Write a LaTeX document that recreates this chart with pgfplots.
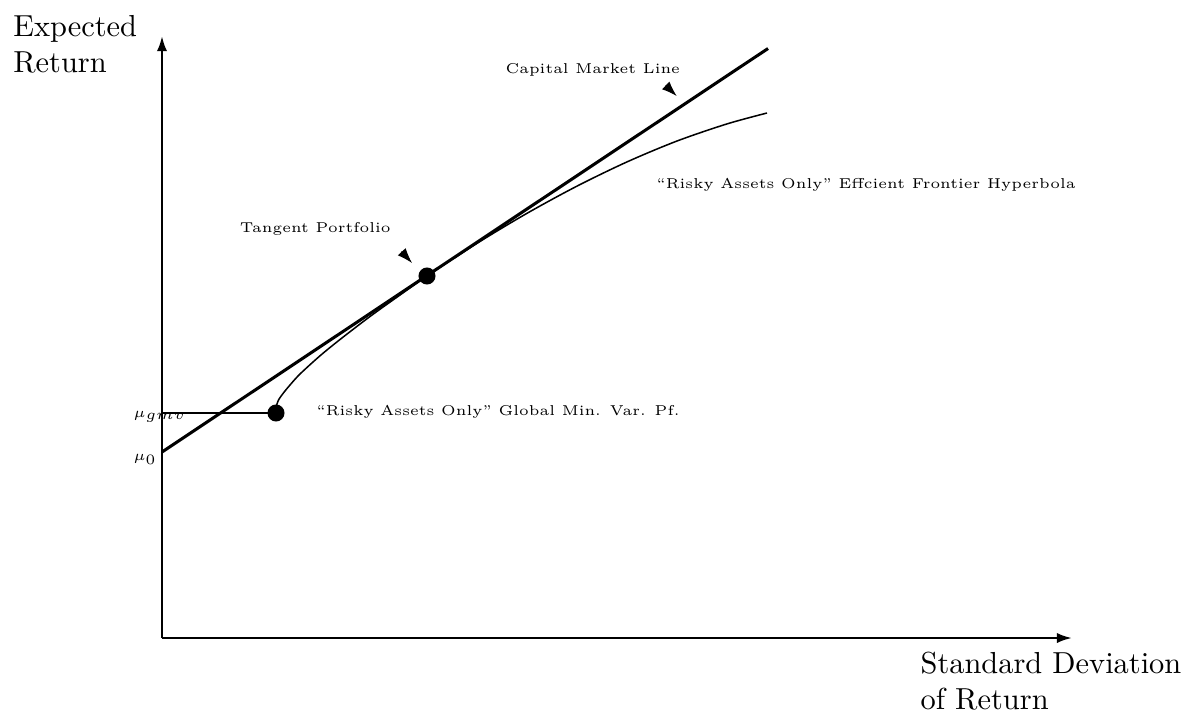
\documentclass[border=0pt]{standalone}
\usepackage{graphicx}
\usepackage{pgfplots}
\pgfplotsset{compat=1.18}
\usetikzlibrary{arrows.meta}
\newcommand{\lab}[1]{\scalebox{0.94}{\tiny #1}}
\begin{document}
\begin{tikzpicture}
\begin{axis}[
  anchor=origin, at={(0,0)},
  x=32.895pt, y=32.895pt,
  xmin=0, xmax=9.1, ymin=0, ymax=6.02,
  enlargelimits=false,
  axis lines=left,
  axis line style={line width=0.8pt, -{Latex[length=5pt,width=3.4pt]}},
  xtick=\empty, ytick=\empty,
  clip=false,
]
% Capital market line
\addplot[black, line width=1pt] coordinates {(0,1.86) (6.06,5.895)};
% Efficient frontier hyperbola
\addplot[black, line width=0.5pt, smooth, tension=0.5] coordinates {
(1.14,2.25) (1.145,2.32) (1.165,2.38) (1.21,2.445) (1.28,2.53) (1.38,2.64)
(1.58,2.822) (1.78,2.985) (2.08,3.215) (2.38,3.430) (2.65,3.62)
(3.15,3.947) (3.65,4.247) (4.15,4.519) (4.65,4.761) (5.15,4.97) (5.65,5.141) (6.05,5.25)};
% gmv level line
\addplot[black, line width=0.45pt] coordinates {(0,2.25) (1.14,2.25)};
% points
\addplot[only marks, mark=*, mark size=2.6pt, black] coordinates {(1.14,2.25) (2.65,3.62)};
% arrows
\draw[-{Latex[length=5pt,width=3.5pt]}, line width=0.3pt] (axis cs:2.395,3.865) -- (axis cs:2.50,3.75);
\draw[-{Latex[length=5pt,width=3.5pt]}, line width=0.3pt] (axis cs:5.038,5.525) -- (axis cs:5.147,5.42);
% labels
\node[anchor=base west, inner sep=0] at (axis cs:3.43,5.65) {\lab{Capital Market Line}};
\node[anchor=base west, inner sep=0] at (axis cs:0.773,4.057) {\lab{Tangent Portfolio}};
\node[anchor=base west, inner sep=0] at (axis cs:4.94,4.497) {\lab{``Risky Assets Only'' Effcient Frontier Hyperbola}};
\node[anchor=base west, inner sep=0] at (axis cs:1.54,2.23) {\lab{``Risky Assets Only'' Global Min. Var. Pf.}};
\node[anchor=base west, inner sep=0] at (axis cs:-0.29,2.21) {\lab{$\mu_{gmv}$}};
\node[anchor=base west, inner sep=0] at (axis cs:-0.29,1.78) {\lab{$\mu_0$}};
\node[anchor=north west, inner sep=0, align=left] at (axis cs:-1.493,6.235) {Expected\\Return};
\node[anchor=north west, inner sep=0, align=left] at (axis cs:7.58,-0.13) {Standard Deviation\\of Return};
\end{axis}
\pgfresetboundingbox
\path[use as bounding box] (-53.29pt,-26.64pt) rectangle (337.17pt,209.87pt);
\end{tikzpicture}
\end{document}
